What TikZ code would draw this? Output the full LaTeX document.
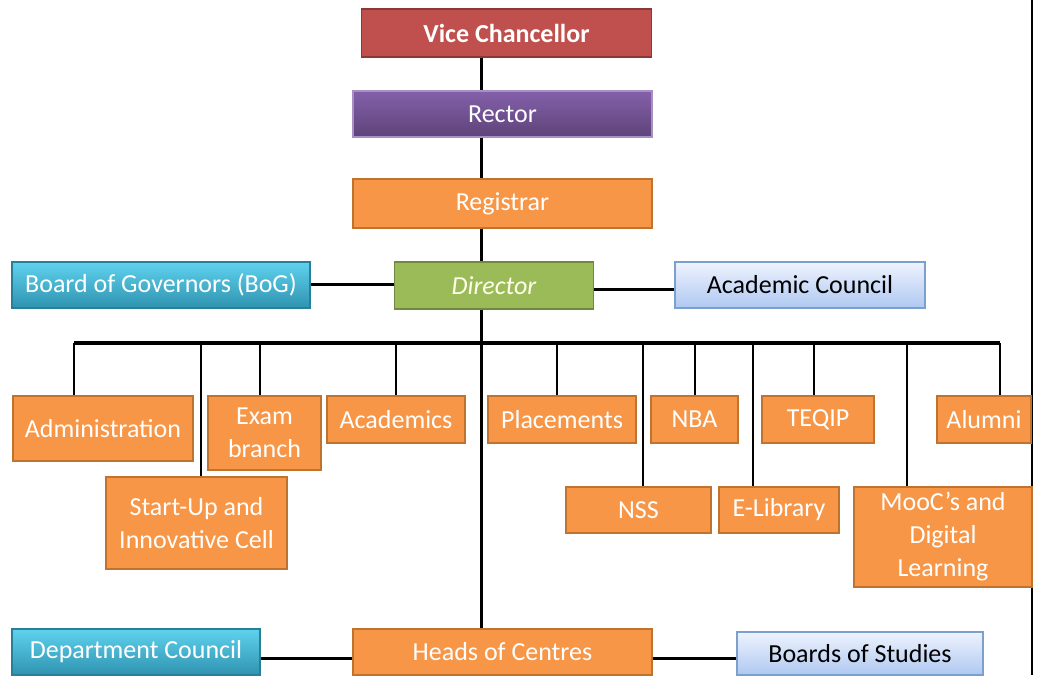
\documentclass[tikz,border=0pt]{standalone}
\usepackage{fontspec}
\setmainfont{Carlito}
\usetikzlibrary{calc}

\definecolor{vcred}{HTML}{C0504D}
\definecolor{vcredd}{HTML}{8C3836}
\definecolor{rectortop}{HTML}{8460AA}
\definecolor{rectorbot}{HTML}{5E4379}
\definecolor{orng}{HTML}{F79646}
\definecolor{orngd}{HTML}{C0722F}
\definecolor{dirgreen}{HTML}{9BBB59}
\definecolor{dirgreend}{HTML}{71893F}
\definecolor{cyantop}{HTML}{5FD2EE}
\definecolor{cyanbot}{HTML}{2F93B0}
\definecolor{cyand}{HTML}{2A7F98}
\definecolor{palettop}{HTML}{EEF3FD}
\definecolor{palebot}{HTML}{AFC8F2}
\definecolor{paled}{HTML}{7BA0CD}

\tikzset{
	x=0.5pt, y=-0.5pt,
	unit/.style={rectangle, inner sep=0pt, align=center, text=white,
		font=\fontsize{13}{16.5}\selectfont, line width=0.8pt},
	redbox/.style={unit, fill=vcred, draw=vcredd, font=\fontsize{13}{16.5}\selectfont\bfseries},
	purplebox/.style={unit, top color=rectortop, bottom color=rectorbot, draw=rectortop!70!white},
	orangebox/.style={unit, fill=orng, draw=orngd},
	greenbox/.style={unit, fill=dirgreen, draw=dirgreend, text=white!92!yellow,
		font=\fontsize{13}{16.5}\selectfont\itshape},
	cyanbox/.style={unit, top color=cyantop, bottom color=cyanbot, draw=cyand},
	palebox/.style={unit, top color=palettop, bottom color=palebot, draw=paled, text=black},
	link/.style={line width=1.5pt},
	thinlink/.style={line width=1pt},
}

\begin{document}
\begin{tikzpicture}
			%%%%% START %%%%%
			\useasboundingbox (0,0) rectangle (1049,675);
			
			\draw[line width=0.7pt] (1032,0) -- (1032,675);
			
			\node[redbox, minimum width=145pt, minimum height=24pt] (vc) at (506.5,33) {Vice Chancellor};
			\node[purplebox, minimum width=149.5pt, minimum height=23pt] (rector) at (502.5,114) {Rector};
			\node[orangebox, minimum width=149.5pt, minimum height=24.5pt] (registrar) at (502.5,203.5) {Registrar};
			\node[greenbox, minimum width=99.5pt, minimum height=23.5pt] (director) at (494,285.5) {Director};
			\node[cyanbox, minimum width=149pt, minimum height=23pt] (bog) at (161,285) {Board of Governors (BoG)};
			\node[palebox, minimum width=125pt, minimum height=23pt] (council) at (800,285) {Academic Council};
			
			\node[orangebox, minimum width=90pt, minimum height=32.5pt] (admin) at (103,428.5) {Administration};
			\node[orangebox, minimum width=56.5pt, minimum height=37pt] (exam) at (264.5,433) {Exam\\branch};
			\node[orangebox, minimum width=69pt, minimum height=23.5pt] (academics) at (396,419.5) {Academics};
			\node[orangebox, minimum width=74pt, minimum height=23.5pt] (placements) at (562,419.5) {Placements};
			\node[orangebox, minimum width=43.5pt, minimum height=23.5pt] (nba) at (694.5,419.5) {NBA};
			\node[orangebox, minimum width=56pt, minimum height=23.5pt] (teqip) at (818,419.5) {TEQIP};
			\node[orangebox, minimum width=47pt, minimum height=23.5pt] (alumni) at (984,419.5) {Alumni};
			
			\node[orangebox, minimum width=90.5pt, minimum height=46pt] (startup) at (196.5,523) {Start-Up and\\Innovative Cell};
			\node[orangebox, minimum width=72.5pt, minimum height=23pt] (nss) at (638.5,510) {NSS};
			\node[orangebox, minimum width=60pt, minimum height=23pt] (elibrary) at (779,510) {E-Library};
			\node[orangebox, minimum width=89pt, minimum height=50pt] (mooc) at (943,537) {MooC's and\\Digital\\Learning};
			
			\node[cyanbox, minimum width=124pt, minimum height=23pt] (deptcouncil) at (136,652) {Department Council};
			\node[orangebox, minimum width=149.5pt, minimum height=23pt] (heads) at (502.5,652) {Heads of Centres};
			\node[palebox, minimum width=123pt, minimum height=21.5pt] (studies) at (860,653.5) {Boards of Studies};
			
			% spine and side links
			\coordinate (spine) at (481,0);
			\draw[link] (vc.south -| spine) -- (rector.north -| spine);
			\draw[link] (rector.south -| spine) -- (registrar.north -| spine);
			\draw[link] (registrar.south -| spine) -- (director.north -| spine);
			\draw[link] (director.south -| spine) -- (heads.north -| spine);
			\coordinate (bogline) at ([yshift=0.5pt]bog.east);
			\draw[link] (bogline) -- (bogline -| director.west);
			\coordinate (councilline) at ([yshift=-1.75pt]director.east);
			\draw[link] (councilline) -- (councilline -| council.west);
			\coordinate (headsline) at ([yshift=-3pt]heads.west);
			\draw[link] (headsline -| deptcouncil.east) -- (headsline);
			\draw[link] (headsline -| heads.east) -- (headsline -| studies.west);
			
			% bus
			\coordinate (busleft) at (74,343);
			\coordinate (busright) at (1000,343);
			\draw[line width=2pt] (busleft) -- (busright);
			\foreach \x/\n in {74/admin, 201/startup, 260/exam, 396/academics, 557/placements,
				643/nss, 695/nba, 753/elibrary, 814/teqip, 907/mooc, 1000/alumni}{
				\coordinate (drop) at (\x,343);
				\draw[thinlink] (drop) -- (\n.north -| drop);
			}
			
			%%%%% END %%%%%
\end{tikzpicture}
\end{document}
